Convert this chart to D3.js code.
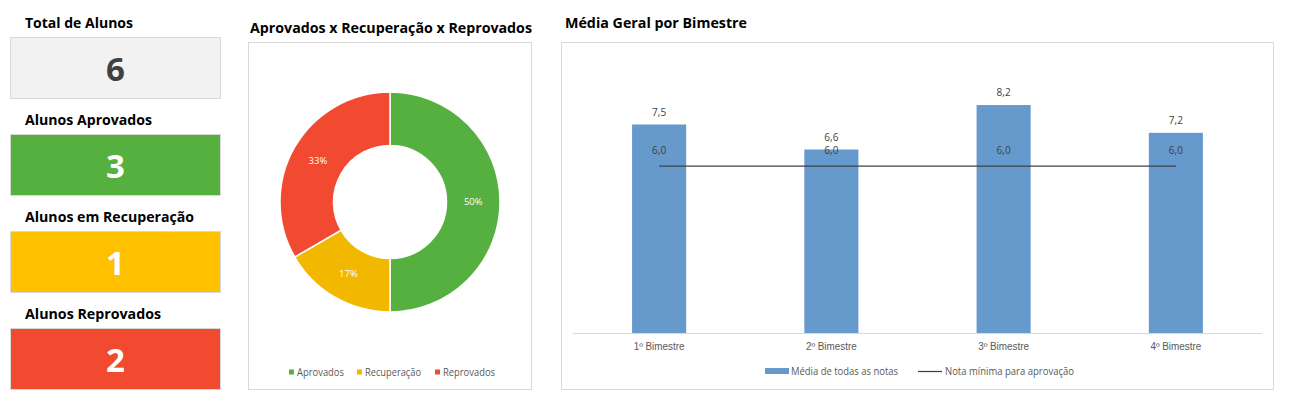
<!DOCTYPE html>
<html><head><meta charset="utf-8">
<script src="https://cdn.jsdelivr.net/npm/d3@7"></script>
<style>
html,body{margin:0;padding:0;background:#fff;}
svg{display:block;font-family:"Open Sans","Noto Sans",sans-serif;}
</style></head>
<body>
<svg id="c" width="1293" height="398"></svg>
<script>
// ---- data ----
const cardTitles = ["Total de Alunos", "Alunos Aprovados", "Alunos em Recuperação", "Alunos Reprovados"];
const cardValues = [6, 3, 1, 2];
const pieCategories = ["Aprovados", "Recuperação", "Reprovados"];
const pieValues = [3, 1, 2];
const bimestres = ["1º Bimestre", "2º Bimestre", "3º Bimestre", "4º Bimestre"];
const medias = [7.5, 6.6, 8.2, 7.2];
const notaMinima = [6.0, 6.0, 6.0, 6.0];
const seriesNames = ["Média de todas as notas", "Nota mínima para aprovação"];

const svg = d3.select("#c");
const fmt = v => d3.format(".1f")(v).replace(".", ",");
function fit(sel, w){ sel.attr("textLength", w).attr("lengthAdjust","spacingAndGlyphs"); return sel; }

// ---- cards ----
const cardFill = ["#f2f2f2", "#56b040", "#ffc000", "#f14a31"];
const cardText = ["#404040", "#fff", "#fff", "#fff"];
const cardTitleW = [108, 127, 169, 136];
const cardY = d3.scaleBand().domain(d3.range(cardTitles.length)).range([0, 388]);
const cards = svg.append("g").selectAll("g").data(cardTitles).join("g")
  .attr("transform", (d,i) => `translate(0,${cardY(i)})`);
cards.append("text").attr("x", 25).attr("y", 28).attr("font-size", 15).attr("font-weight", 700)
  .attr("fill", "#000").text(d => d).each(function(d,i){ fit(d3.select(this), cardTitleW[i]); });
cards.append("rect").attr("x", 10.5).attr("y", 37.5).attr("width", 210).attr("height", 61)
  .attr("fill", (d,i) => cardFill[i]).attr("stroke", "#d9d9d9");
cards.append("text").attr("x", 115.5).attr("y", 81).attr("text-anchor", "middle")
  .attr("font-size", 33).attr("font-weight", 700).attr("fill", (d,i) => cardText[i])
  .text((d,i) => cardValues[i]);

// ---- donut ----
svg.append("rect").attr("x", 248.5).attr("y", 42.5).attr("width", 283).attr("height", 347)
  .attr("fill", "#fff").attr("stroke", "#d9d9d9");
fit(svg.append("text").attr("x", 391).attr("y", 33).attr("text-anchor", "middle")
  .attr("font-size", 14.5).attr("font-weight", 700).text("Aprovados x Recuperação x Reprovados"), 282);
const pieColor = d3.scaleOrdinal().domain(pieCategories).range(["#56b040", "#f2b800", "#f14a31"]);
const pie = d3.pie().sort(null).value(d => d)(pieValues);
const outerR = 110, innerR = 56.5;
const arc = d3.arc().innerRadius(innerR).outerRadius(outerR);
const labelArc = d3.arc().innerRadius((innerR+outerR)/2).outerRadius((innerR+outerR)/2);
const total = d3.sum(pieValues);
const pg = svg.append("g").attr("transform", "translate(390,202)");
pg.selectAll("path").data(pie).join("path").attr("d", arc)
  .attr("fill", (d,i) => pieColor(pieCategories[i])).attr("stroke", "#fff").attr("stroke-width", 1.5);
pg.selectAll("text").data(pie).join("text")
  .attr("transform", d => `translate(${labelArc.centroid(d)})`)
  .attr("text-anchor", "middle").attr("dy", "0.35em").attr("font-size", 9.5).attr("fill", "#fff")
  .text(d => Math.round(d.value / total * 100) + "%");
const pieLegX = [291, 359, 437], pieLegW = [47, 56, 52];
const pl = svg.append("g").selectAll("g").data(pieCategories).join("g")
  .attr("transform", (d,i) => `translate(${pieLegX[i]},372)`);
pl.append("rect").attr("x", -2).attr("y", -2.5).attr("width", 5).attr("height", 5).attr("fill", d => pieColor(d));
pl.append("text").attr("x", 6).attr("y", 3.5).attr("font-size", 10).attr("fill", "#595959")
  .text(d => d).each(function(d,i){ fit(d3.select(this), pieLegW[i]); });

// ---- bar chart ----
svg.append("rect").attr("x", 561.5).attr("y", 42.5).attr("width", 712).attr("height", 347)
  .attr("fill", "#fff").attr("stroke", "#d9d9d9");
fit(svg.append("text").attr("x", 565).attr("y", 28).attr("font-size", 15).attr("font-weight", 700)
  .text("Média Geral por Bimestre"), 182);
const x = d3.scaleBand().domain(bimestres).range([573, 1262]).paddingInner(0.686).paddingOuter(0.343);
const y = d3.scaleLinear().domain([0, 10]).range([333, 55]);
const bg = svg.append("g");
bg.selectAll("rect").data(medias).join("rect")
  .attr("x", (d,i) => x(bimestres[i])).attr("width", x.bandwidth())
  .attr("y", d => y(d)).attr("height", d => y(0) - y(d)).attr("fill", "#6699cc");
const xAxis = svg.append("g").attr("transform", `translate(0,${y(0)})`)
  .call(d3.axisBottom(x).tickSize(0).tickPadding(10));
xAxis.select(".domain").attr("stroke", "#d9d9d9").attr("d", `M573,0.5H1262`);
xAxis.selectAll("text").attr("font-size", 10).attr("fill", "#595959").attr("font-family", "inherit")
  .each(function(){ fit(d3.select(this), 51); });
const cx = b => x(b) + x.bandwidth()/2;
const line = d3.line().x((d,i) => cx(bimestres[i])).y(d => y(d));
svg.append("path").datum(notaMinima).attr("d", line).attr("fill", "none")
  .attr("stroke", "#404040").attr("stroke-width", 1.25);
bg.selectAll("text.v").data(medias).join("text").attr("class", "v")
  .attr("x", (d,i) => cx(bimestres[i])).attr("y", d => y(d) - 9)
  .attr("text-anchor", "middle").attr("font-size", 10).attr("fill", "#404040").text(d => fmt(d));
svg.append("g").selectAll("text").data(notaMinima).join("text")
  .attr("x", (d,i) => cx(bimestres[i])).attr("y", d => y(d) - 12)
  .attr("text-anchor", "middle").attr("font-size", 10).attr("fill", "#404040").text(d => fmt(d));
// legend
const lg = svg.append("g").attr("transform", "translate(0,371)");
lg.append("rect").attr("x", 765).attr("y", -3).attr("width", 24).attr("height", 6).attr("fill", "#6699cc");
fit(lg.append("text").attr("x", 791).attr("y", 3.5).attr("font-size", 10).attr("fill", "#595959").text(seriesNames[0]), 107);
lg.append("line").attr("x1", 918).attr("x2", 942).attr("y1", 0.5).attr("y2", 0.5).attr("stroke", "#404040").attr("stroke-width", 1.25);
fit(lg.append("text").attr("x", 945).attr("y", 3.5).attr("font-size", 10).attr("fill", "#595959").text(seriesNames[1]), 129);
</script>
</body></html>
